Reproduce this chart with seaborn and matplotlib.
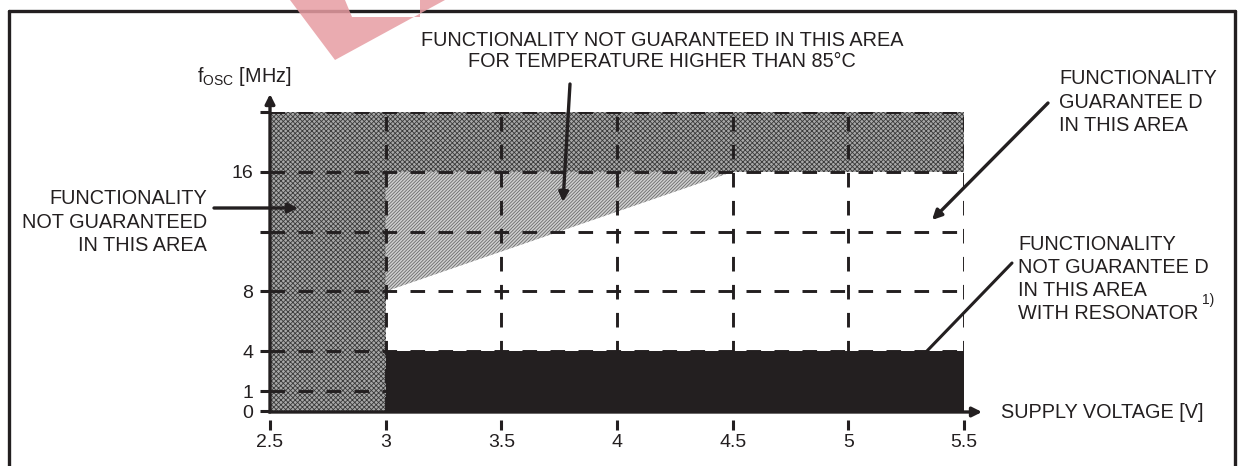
import numpy as np
import pandas as pd
import matplotlib
matplotlib.use("Agg")
import matplotlib.pyplot as plt
from matplotlib.patches import Polygon, FancyArrowPatch
import seaborn as sns

# ─────────────────────────────────────────
# Data (supply voltage in V, oscillator frequency in MHz)
# ─────────────────────────────────────────
VOLT_TICKS   = [2.5, 3, 3.5, 4, 4.5, 5, 5.5]
VOLT_LABELS  = ["2.5", "3", "3.5", "4", "4.5", "5", "5.5"]
FREQ_TICKS   = [0, 1, 4, 8, 12, 16, 20]
FREQ_LABELS  = ["0", "1", "4", "8", "", "16", ""]
FREQ_SCALE   = [0, 1, 3, 6, 9, 12, 15]   # non-linear axis spacing of the datasheet

V_MIN, V_LOW, V_KNEE, V_MAX = 2.5, 3.0, 4.5, 5.5
F_RES, F_LOW, F_HIGH, F_TOP = 4, 8, 16, 20

TEMP_V = [3.0, 4.5, 3.0]    # area not guaranteed above 85°C
TEMP_F = [8, 16, 16]

RES_LINES = ["FUNCTIONALITY", "NOT GUARANTEE D", "IN THIS AREA", "WITH RESONATOR"]

INK = "#231f20"
W, H = 1240, 466

sns.set_theme(style="white")
plt.rcParams["font.family"] = ["Liberation Sans", "DejaVu Sans"]
plt.rcParams["hatch.linewidth"] = 0.6


def px(x, y):
    return x / W, 1 - y / H


fig = plt.figure(figsize=(W / 100, H / 100), dpi=100)
x0, y0 = px(270, 411)
x1, y1 = px(964, 112)
ax = fig.add_axes([x0, y0, x1 - x0, y1 - y0])

fwd = lambda f: np.interp(f, FREQ_TICKS, FREQ_SCALE)
inv = lambda s: np.interp(s, FREQ_SCALE, FREQ_TICKS)
ax.set_yscale("function", functions=(fwd, inv))
ax.set_xlim(V_MIN, V_MAX)
ax.set_ylim(0, F_TOP)

# ── shaded areas ───────────────────────────────────────────────────────
dark = dict(facecolor="#a8a8a8", edgecolor="#3a3a3a", hatch="xxxxxxx", lw=0, zorder=1)
ax.fill_between([V_MIN, V_LOW], 0, F_TOP, **dark)
ax.fill_between([V_LOW, V_MAX], F_HIGH, F_TOP, **dark)
ax.fill(TEMP_V, TEMP_F, facecolor="#d0d0d0", edgecolor="#6a6a6a",
        hatch="//////////", lw=0, zorder=1)
ax.fill_between([V_LOW, V_MAX], 0, F_RES, color=INK, lw=0, zorder=2)

# ── dashed grid ────────────────────────────────────────────────────────
dash = dict(color=INK, lw=2.1, linestyle=(0, (5, 4.6)), zorder=3)
for f in FREQ_TICKS[1:]:
    ax.plot([V_MIN, V_MAX], [f, f], **dash)
for v in VOLT_TICKS[1:]:
    ax.plot([v, v], [0, F_TOP], **dash)

# ── axes & ticks ───────────────────────────────────────────────────────
for s in ["top", "right", "left", "bottom"]:
    ax.spines[s].set_visible(False)
ax.spines["bottom"].set_position(("outward", 6.5))
ax.set_xticks(VOLT_TICKS, VOLT_LABELS)
ax.set_yticks(FREQ_TICKS, FREQ_LABELS)
ax.minorticks_off()
ax.tick_params(axis="x", direction="out", length=7, width=2.2, color=INK,
               labelsize=14, labelcolor=INK, pad=3, bottom=True)
ax.tick_params(axis="y", direction="out", length=7, width=2.2, color=INK,
               labelsize=14, labelcolor=INK, pad=5, left=True)
ax.grid(False)
ax.set_facecolor("none")

arrow = dict(arrowstyle="-|>", lw=2.4, color=INK, mutation_scale=14,
             shrinkA=0, shrinkB=0)
ax.annotate("", xy=px(270, 94), xytext=px(270, 412), xycoords="figure fraction",
            arrowprops=arrow, annotation_clip=False)
ax.annotate("", xy=px(982, 412), xytext=px(269, 412), xycoords="figure fraction",
            arrowprops=arrow, annotation_clip=False)

# ── labels ─────────────────────────────────────────────────────────────
txt = dict(fontsize=14.3, color=INK)
fig.text(*px(244, 76), r"f$_\mathregular{OSC}$ [MHz]", ha="center", va="center", **txt)
fig.text(*px(1001, 412), "SUPPLY VOLTAGE [V]", ha="left", va="center", **txt)

fig.text(*px(662, 51), "FUNCTIONALITY NOT GUARANTEED IN THIS AREA\nFOR TEMPERATURE HIGHER THAN 85°C",
         ha="center", va="center", linespacing=1.18, **txt)
fig.text(*px(207, 222), "FUNCTIONALITY\nNOT GUARANTEED\nIN THIS AREA",
         ha="right", va="center", multialignment="right", linespacing=1.33, **txt)
fig.text(*px(1059, 102), "FUNCTIONALITY\nGUARANTEE D\nIN THIS AREA",
         ha="left", va="center", linespacing=1.33, **txt)
for i, line in enumerate(RES_LINES):
    fig.text(*px(1018, 244 + 23.2 * i), line, ha="left", va="center", **txt)
fig.text(*px(1202, 300), "1)", ha="left", va="center", fontsize=10, color=INK)

# ── pointer arrows ─────────────────────────────────────────────────────
pointers = [((570, 84), (563, 202)), ((214, 208), (298, 208)), ((1048, 103), (932, 220))]
for start, tip in pointers:
    fig.add_artist(FancyArrowPatch(px(*start), px(*tip), transform=fig.transFigure, **arrow))
fig.add_artist(plt.Line2D(*zip(px(1012, 263), px(926, 352)), color=INK, lw=2.2,
                          transform=fig.transFigure))

# ── frame and watermark ────────────────────────────────────────────────
for a, b in [((9, 470), (9, 11)), ((9, 11), (1235, 11)), ((1235, 11), (1235, 470))]:
    fig.add_artist(plt.Line2D(*zip(px(*a), px(*b)), color=INK, lw=2.4,
                              transform=fig.transFigure))
mark = [(290, 0), (335, 60), (445, 0), (420, 0), (420, 17), (352, 17), (345, 0)]
fig.add_artist(Polygon([px(*p) for p in mark], closed=True, facecolor="#e79ca2",
                       edgecolor="none", alpha=0.85, transform=fig.transFigure, zorder=5))

fig.savefig("out.png", dpi=100)
